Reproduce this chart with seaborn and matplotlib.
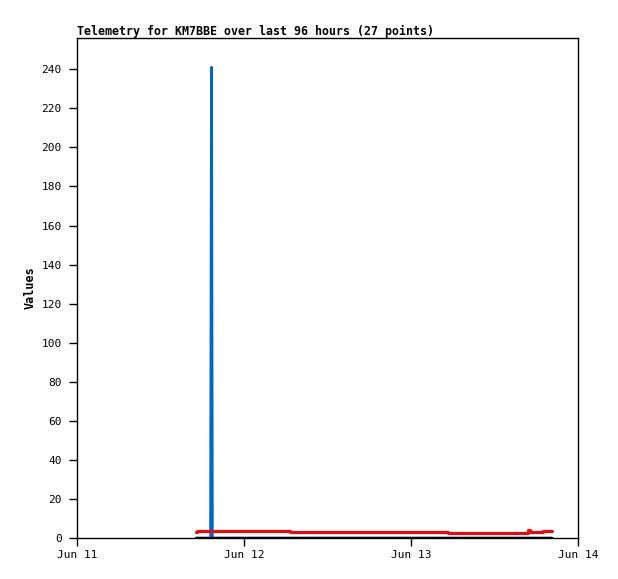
"""
plot.py
Telemetria de KM7BBE en las ultimas 96 horas, estilo gnuplot.
"""

import matplotlib
matplotlib.use("Agg")
import matplotlib.dates as mdates
import matplotlib.pyplot as plt
import pandas as pd
import seaborn as sns

# horas desde Jun 11 00:00
hours = [17.1, 17.25, 19.2, 19.33, 19.45, 21.5, 23.5, 25.5, 27.5,
         30.6, 33.0, 36.0, 39.0, 42.0, 45.0, 48.0, 51.0,
         53.3, 56.0, 59.0, 62.0, 64.77, 65.03, 66.0, 66.97, 67.6, 68.2]
red_vals = [3.0, 3.6, 3.6, 3.6, 3.6, 3.6, 3.6, 3.6, 3.6,
            3.1, 3.1, 3.1, 3.1, 3.1, 3.1, 3.1, 3.1,
            2.7, 2.7, 2.7, 2.7, 3.9, 3.1, 3.1, 3.7, 3.7, 3.7]
blue_vals = [0, 0, 0, 241, 0, 0, 0, 0, 0,
             0, 0, 0, 0, 0, 0, 0, 0,
             0, 0, 0, 0, 0, 0, 0, 0, 0, 0]
black_vals = [0] * 27
x_ticks = ["2024-06-11", "2024-06-12", "2024-06-13", "2024-06-14"]
y_ticks = list(range(0, 241, 20))

start = pd.Timestamp("2024-06-11")
df = pd.DataFrame({
    "time": [start + pd.Timedelta(hours=h) for h in hours],
    "red": red_vals,
    "blue": blue_vals,
    "black": black_vals,
})

sns.set_style("white")
plt.rcParams["font.family"] = ["DejaVu Sans Mono"]
plt.rcParams["text.color"] = "black"
plt.rcParams["axes.labelcolor"] = "black"
plt.rcParams["xtick.color"] = "black"
plt.rcParams["ytick.color"] = "black"

fig = plt.figure(figsize=(6.18, 5.79), dpi=100)
ax = fig.add_axes([77 / 618, 41 / 579, 501 / 618, 500 / 579])

sns.lineplot(data=df, x="time", y="blue", color="#0066cc", linewidth=2.0, ax=ax)
sns.lineplot(data=df, x="time", y="red", color="#ff0000", linewidth=2.2,
             drawstyle="steps-post", ax=ax)
sns.lineplot(data=df, x="time", y="black", color="black", linewidth=2.2,
             drawstyle="steps-post", ax=ax)

ax.set_xlim(pd.Timestamp(x_ticks[0]), pd.Timestamp(x_ticks[-1]))
ax.set_ylim(0, 256)
ax.set_xticks([pd.Timestamp(t) for t in x_ticks])
ax.xaxis.set_major_formatter(mdates.DateFormatter("%b %d"))
ax.set_yticks(y_ticks)

for s in ax.spines.values():
    s.set_color("black")
    s.set_linewidth(1)
ax.tick_params(axis="both", direction="out", length=6, width=1, color="black",
               labelcolor="black", labelsize=8, pad=5, bottom=True, left=True)
ax.tick_params(axis="x", pad=3)

ax.set_xlabel("")
ax.set_ylabel("Values", fontsize=8.5, fontweight="bold")
ax.yaxis.set_label_coords(-40 / 501, 0.5)
ax.set_title("Telemetry for KM7BBE over last 96 hours (27 points)",
             loc="left", fontsize=8.4, fontweight="bold", pad=2)

plt.savefig("out.png", dpi=100)
plt.close()
